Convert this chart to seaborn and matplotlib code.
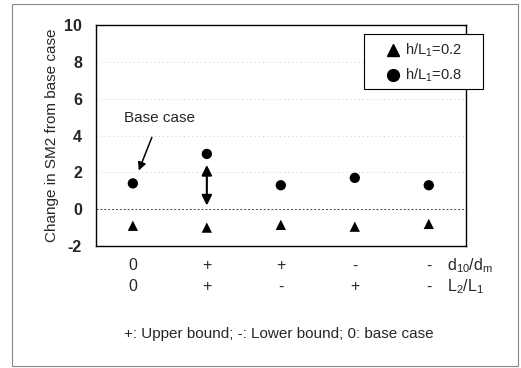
"""
Sensitivity of SM2 to d10/dm and L2/L1 bounds, for two h/L1 ratios.
"""

import pandas as pd
import seaborn as sns
import matplotlib.pyplot as plt
from matplotlib.patches import Rectangle
from matplotlib.lines import Line2D

# ─── DATA ────────────────────────────────────────────────────────────────────
cases        = [0, 1, 2, 3, 4]
d10_dm_signs = ["0", "+", "+", "-", "-"]
l2_l1_signs  = ["0", "+", "-", "+", "-"]
h02_values   = [-0.9, -1.0, -0.85, -0.95, -0.8]   # h/L1 = 0.2
h08_values   = [1.4, 3.0, 1.3, 1.7, 1.3]          # h/L1 = 0.8
y_ticks      = [-2, 0, 2, 4, 6, 8, 10]

LBL_02 = "h/L$_1$=0.2"
LBL_08 = "h/L$_1$=0.8"

df = pd.DataFrame({
    "case":   cases + cases,
    "value":  h02_values + h08_values,
    "series": [LBL_02] * len(cases) + [LBL_08] * len(cases),
})

# ─── STYLE ───────────────────────────────────────────────────────────────────
sns.set_style("white")
plt.rcParams["font.family"] = ["Liberation Sans", "DejaVu Sans"]
plt.rcParams["mathtext.fontset"] = "custom"
plt.rcParams["mathtext.rm"] = "Liberation Sans"
plt.rcParams["mathtext.it"] = "Liberation Sans"

FS = 11

fig = plt.figure(figsize=(5.21, 3.68), dpi=100)
ax = fig.add_axes([0.184, 0.3315, 0.710, 0.6005])

# faint dotted grid + zero line
for yv in y_ticks[2:-1]:
    ax.axhline(yv, color="#bbbbbb", lw=0.6, ls=(0, (1, 4)), zorder=0)
ax.axhline(0, color="#444444", lw=0.7, ls=(0, (2, 2)), zorder=1)

sns.scatterplot(data=df, x="case", y="value", style="series",
                markers={LBL_02: "^", LBL_08: "o"},
                color="black", s=55, edgecolor="black", linewidth=0,
                ax=ax, legend=False, zorder=3)

ax.set_xlim(-0.5, 4.5)
ax.set_ylim(-2, 10)
ax.set_yticks(y_ticks)
ax.set_yticklabels([str(t) for t in y_ticks], fontsize=11.5, fontweight="bold")
ax.set_xticks([])
ax.set_xlabel("")
ax.set_ylabel("Change in SM2 from base case", fontsize=FS, labelpad=4)
ax.tick_params(axis="y", length=0, pad=10)
for sp in ax.spines.values():
    sp.set_color("black")
    sp.set_linewidth(1.0)

# arrow showing the change for the "+ +" case
ax.annotate("", xy=(1, 0.05), xytext=(1, 2.55),
            arrowprops=dict(arrowstyle="<|-|>", color="black", lw=1.5,
                            mutation_scale=15))

# base case label
ax.annotate("Base case", xy=(0.08, 2.1), xytext=(0.36, 4.95),
            fontsize=FS, ha="center", va="center",
            arrowprops=dict(arrowstyle="-|>", color="black", lw=1.1,
                            mutation_scale=12, shrinkA=7, shrinkB=0))

# legend box (drawn by hand so it can sit past the right spine)
W, H = 521, 368
fig.add_artist(Rectangle((364 / W, 1 - 89 / H), 119 / W, 55 / H,
                         transform=fig.transFigure, facecolor="white",
                         edgecolor="black", lw=0.8, zorder=5))
for marker, msize, label, ypx in [("^", 8, LBL_02, 50), ("o", 8.5, LBL_08, 75)]:
    fig.add_artist(Line2D([393 / W], [1 - ypx / H], marker=marker, ls="",
                          color="black", markersize=msize,
                          transform=fig.transFigure, zorder=6))
    fig.text(405 / W, 1 - ypx / H, label, ha="left", va="center",
             fontsize=10.5, zorder=6)

# sign rows under the axis
trans = ax.get_xaxis_transform()
for i, (s1, s2) in enumerate(zip(d10_dm_signs, l2_l1_signs)):
    ax.text(i, -0.09, s1, transform=trans, ha="center", va="center", fontsize=11.5)
    ax.text(i, -0.185, s2, transform=trans, ha="center", va="center", fontsize=11.5)
ax.text(4.25, -0.09, "d$_{10}$/d$_{m}$", transform=trans, ha="left",
        va="center", fontsize=11.5)
ax.text(4.25, -0.185, "L$_2$/L$_1$", transform=trans, ha="left",
        va="center", fontsize=11.5)

fig.text(279 / W, 1 - 334 / H,
         "+: Upper bound; -: Lower bound; 0: base case",
         ha="center", va="center", fontsize=FS)

# outer frame
fig.patches.append(Rectangle((12 / W, 2 / H), 506 / W, 362 / H,
                             transform=fig.transFigure, fill=False,
                             edgecolor="#888888", lw=0.8))

fig.savefig("out.png", dpi=100)
